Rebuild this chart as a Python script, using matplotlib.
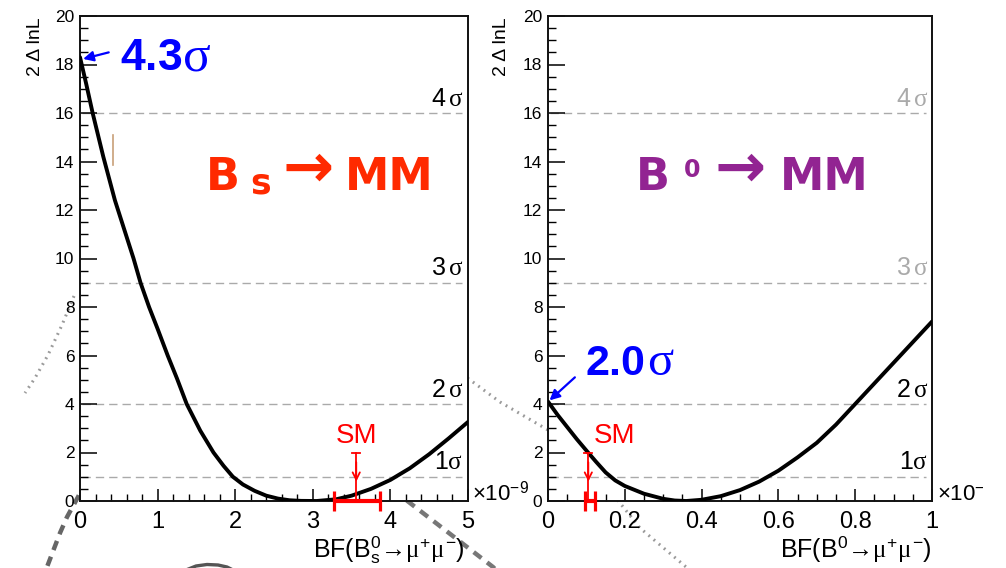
import matplotlib
matplotlib.use("Agg")
import matplotlib.pyplot as plt
from matplotlib.lines import Line2D
from matplotlib.ticker import MultipleLocator, FuncFormatter
from matplotlib.transforms import Bbox, TransformedBbox

plt.rcParams["font.family"] = ["Liberation Sans", "DejaVu Sans"]
plt.rcParams["mathtext.fontset"] = "custom"
plt.rcParams["mathtext.rm"] = "Liberation Sans"
plt.rcParams["mathtext.sf"] = "Liberation Sans"
plt.rcParams["mathtext.it"] = "Liberation Serif"
plt.rcParams["mathtext.bf"] = "Liberation Sans:bold"

# ---- profile likelihood scans ---------------------------------------------
# Bs -> mu mu : branching fraction in units of 1e-9
bs_bf = [0.00, 0.08, 0.163, 0.30, 0.45, 0.57, 0.69, 0.78, 0.89, 1.00, 1.13,
         1.25, 1.375, 1.55, 1.72, 1.85, 1.97, 2.10, 2.25, 2.40, 2.55, 2.70,
         2.85, 3.05, 3.30, 3.50, 3.75, 4.00, 4.25, 4.50, 4.75, 5.00]
bs_dll = [18.3, 17.2, 16.0, 14.2, 12.4, 11.2, 10.0, 9.0, 8.0, 7.1, 6.0,
          5.05, 4.0, 2.9, 2.0, 1.45, 1.0, 0.68, 0.42, 0.22, 0.10, 0.03,
          0.005, 0.0, 0.07, 0.22, 0.50, 0.87, 1.35, 1.93, 2.58, 3.26]

# B0 -> mu mu : branching fraction in units of 1e-9
b0_bf = [0.0, 0.025, 0.05, 0.075, 0.10, 0.125, 0.15, 0.175, 0.20, 0.25,
         0.30, 0.33, 0.36, 0.40, 0.45, 0.50, 0.55, 0.60, 0.65, 0.70, 0.75,
         0.80, 0.85, 0.90, 0.95, 1.00]
b0_dll = [4.1, 3.55, 3.05, 2.55, 2.08, 1.62, 1.18, 0.85, 0.62, 0.30,
          0.09, 0.02, 0.0, 0.05, 0.2, 0.45, 0.8, 1.25, 1.8, 2.4, 3.15,
          4.0, 4.85, 5.7, 6.55, 7.4]

# Standard Model predictions (central value, lower, upper)
bs_sm = [3.56, 3.27, 3.86]
b0_sm = [0.105, 0.096, 0.122]

# observed significance of the B -> mu mu signal
bs_signif = "4.3"
b0_signif = "2.0"

# horizontal reference levels for 2*Delta lnL
sigma_levels = [1, 4, 9, 16]
sigma_labels = ["1$\\sigma$", "2$\\,\\sigma$", "3$\\,\\sigma$", "4$\\,\\sigma$"]

W, H = 1006, 568
fig = plt.figure(figsize=(W / 100, H / 100), dpi=100)
fig.patch.set_facecolor("white")


def fx(px):
    return px / W


def fy(py):
    return 1 - py / H


def deco(points, **kw):
    xs = [fx(p[0]) for p in points]
    ys = [fy(p[1]) for p in points]
    fig.add_artist(Line2D(xs, ys, transform=fig.transFigure, zorder=-1, **kw))


# faint event-display strokes in the slide background
deco([(74, 296), (62, 325), (48, 355), (35, 378), (25, 393)],
     color="#9a9a9a", lw=2.2, linestyle=(0, (0.6, 1.6)), solid_capstyle="round")
deco([(86, 480), (78, 497), (67, 517), (60, 533), (47, 567), (44, 575)],
     color="#666666", lw=3.2, linestyle=(0, (2.2, 1.6)))
deco([(462, 374), (500, 402), (548, 430), (600, 478), (640, 528), (692, 572)],
     color="#9a9a9a", lw=2.2, linestyle=(0, (0.6, 1.6)))
deco([(380, 480), (410, 503), (493, 567), (497, 571)],
     color="#777777", lw=3.2, linestyle=(0, (2.2, 1.6)))
deco([(186, 570), (196, 566), (207, 564.5), (218, 565), (227, 567),
      (233, 570)], color="#555555", lw=2.4)

axL = fig.add_axes([fx(80), fy(501), (468 - 80) / W, (501 - 16) / H])
axR = fig.add_axes([fx(548), fy(501), (932 - 548) / W, (501 - 16) / H])


def style(ax, xmax, xmajor, xminor):
    ax.set_xlim(0, xmax)
    ax.set_ylim(0, 20)
    ax.set_facecolor("white")
    ax.xaxis.set_major_locator(MultipleLocator(xmajor))
    ax.xaxis.set_minor_locator(MultipleLocator(xminor))
    ax.yaxis.set_major_locator(MultipleLocator(2))
    ax.yaxis.set_minor_locator(MultipleLocator(0.5))
    ax.xaxis.set_major_formatter(FuncFormatter(lambda v, p: f"{v:g}"))
    ax.yaxis.set_major_formatter(FuncFormatter(lambda v, p: f"{v:g}"))
    ax.tick_params(which="both", direction="in", top=False, right=False,
                   colors="black")
    ax.tick_params(axis="y", which="major", length=12, width=1.1,
                   labelsize=12.5, pad=4)
    ax.tick_params(axis="y", which="minor", length=6, width=1.0)
    ax.tick_params(axis="x", which="major", length=9, width=1.1,
                   labelsize=17, pad=7)
    ax.tick_params(axis="x", which="minor", length=5, width=1.0)
    for s in ax.spines.values():
        s.set_linewidth(1.4)
        s.set_color("#111111")


style(axL, 5, 1, 0.2)
style(axR, 1, 0.2, 0.05)

# reference levels and labels
label_colors_L = ["black"] * 4
label_colors_R = ["black", "black", "#aaaaaa", "#aaaaaa"]
for ax, xr, cols in [(axL, 4.94, label_colors_L), (axR, 0.99, label_colors_R)]:
    for lvl, lab, c in zip(sigma_levels, sigma_labels, cols):
        ax.axhline(lvl, xmin=0.005, xmax=0.985, color="#aaaaaa", lw=1.0,
                   dashes=(6, 3.6), zorder=1)
        ax.text(xr, lvl + 0.3, lab, ha="right", va="baseline", fontsize=18,
                color=c, zorder=2)

# likelihood curves
axL.plot(bs_bf, bs_dll, color="black", lw=2.8, solid_joinstyle="round",
         solid_capstyle="round", zorder=3)
axR.plot(b0_bf, b0_dll, color="black", lw=2.8, solid_joinstyle="round",
         solid_capstyle="round", zorder=3)

# small tick mark left on the Bs panel
axL.plot([0.425, 0.425], [13.86, 15.09], color="#c8a078", lw=1.2, zorder=2)

# SM markers
RED = "#ff0000"
for ax, sm, cap, dx in [(axL, bs_sm, 0.05, 0.0), (axR, b0_sm, 0.0104, 0.067)]:
    c, lo, hi = sm
    ax.text(c + dx, 2.4, "SM", color=RED, fontsize=20, ha="center",
            va="baseline")
    ax.plot([c, c], [2.0, 0.0], color=RED, lw=1.3, zorder=4)
    ax.plot([c - cap, c + cap], [2.0, 2.0], color=RED, lw=1.3, zorder=4)
    ax.annotate("", xy=(c, 0.8), xytext=(c, 1.6),
                arrowprops=dict(arrowstyle="->", color=RED, lw=1.3,
                                mutation_scale=13, shrinkA=0, shrinkB=0),
                zorder=4)
    ax.errorbar([c], [0], xerr=[[c - lo], [hi - c]], fmt="none", ecolor=RED,
                elinewidth=3, capsize=7, capthick=2.3, clip_on=False,
                zorder=5)

# significance annotations
BLUE = "#0000ff"
axL.annotate("", xy=(0.04, bs_dll[0] - 0.07), xytext=(0.37, 18.5),
             arrowprops=dict(arrowstyle="-|>", color=BLUE, lw=1.6,
                             mutation_scale=15, shrinkA=0, shrinkB=0))
axL.text(0.515, 17.77, "$\\mathbf{" + bs_signif + "}$", color=BLUE,
         fontsize=32, ha="left", va="baseline")
axL.text(1.32, 17.77, "$\\sigma$", color=BLUE, fontsize=37, ha="left",
         va="baseline")
axR.annotate("", xy=(0.004, b0_dll[0] + 0.05), xytext=(0.07, 5.1),
             arrowprops=dict(arrowstyle="-|>", color=BLUE, lw=1.6,
                             mutation_scale=15, shrinkA=0, shrinkB=0))
axR.text(0.096, 5.2, "$\\mathbf{" + b0_signif + "}$", color=BLUE,
         fontsize=31, ha="left", va="baseline")
axR.text(0.258, 5.2, "$\\sigma$", color=BLUE, fontsize=35, ha="left",
         va="baseline")

# channel titles
BS_COL = "#ff2a00"
B0_COL = "#922492"
tkw = dict(family="DejaVu Sans", weight="bold", va="baseline", ha="left")
fig.text(fx(206), fy(190), "B", color=BS_COL, fontsize=32, **tkw)
fig.text(fx(250), fy(193), "s", color=BS_COL, fontsize=25, **tkw)
fig.text(fx(282), fy(187), "\u2192", color=BS_COL, fontsize=44, **tkw)
fig.text(fx(345), fy(190), "MM", color=BS_COL, fontsize=32, **tkw)

fig.text(fx(636), fy(190), "B", color=B0_COL, fontsize=32, **tkw)
fig.text(fx(684), fy(177), "0", color=B0_COL, fontsize=17, **tkw)
fig.text(fx(715), fy(187), "\u2192", color=B0_COL, fontsize=44, **tkw)
fig.text(fx(780), fy(190), "MM", color=B0_COL, fontsize=32, **tkw)

# axis titles
fig.text(fx(36), fy(17), "2 \u0394 lnL", rotation=90, ha="center", va="top",
         fontsize=14)
fig.text(fx(501), fy(17), "2 \u0394 lnL", rotation=90, ha="center", va="top",
         fontsize=14)
fig.text(fx(465), fy(557),
         "BF(B$^{0}_{\\mathrm{s}}$\u2192$\\mu^{+}\\mu^{-}$)",
         ha="right", va="baseline", fontsize=18)
fig.text(fx(932), fy(557), "BF(B$^{0}$\u2192$\\mu^{+}\\mu^{-}$)",
         ha="right", va="baseline", fontsize=18)

# exponent labels
fig.text(fx(472), fy(500), "\u00d710$^{-9}$", ha="left", va="baseline",
         fontsize=16)
t = fig.text(fx(937), fy(500), "\u00d710$^{-9}$", ha="left", va="baseline",
             fontsize=16)
t.set_clip_box(TransformedBbox(Bbox([[0, 0], [983 / W, 1]]), fig.transFigure))
t.set_clip_on(True)

fig.savefig("out.png", dpi=100, facecolor="white")
